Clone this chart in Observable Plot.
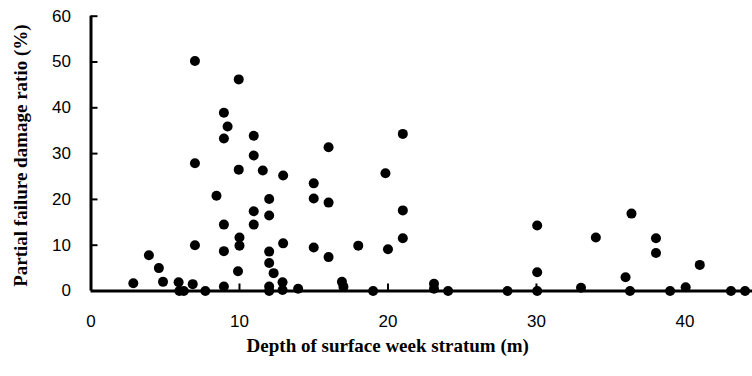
<!DOCTYPE html>
<html><head><meta charset="utf-8">
<script src="https://cdn.jsdelivr.net/npm/d3@7"></script>
<script src="https://cdn.jsdelivr.net/npm/@observablehq/plot@0.6"></script>
<style>
body{margin:0;background:#fff}
svg{display:block}
</style>
</head><body><div id="chart"></div>
<script>
const depth = [2.85,3.9,4.57,4.85,5.9,5.95,6.25,6.85,7.0,7.0,7.0,7.7,8.45,8.95,9.2,8.95,8.95,8.95,8.95,9.95,9.95,10.0,10.0,9.9,10.96,10.96,10.96,10.96,11.57,12.0,12.0,12.0,12.0,12.3,12.0,12.0,12.94,12.94,12.9,12.9,13.95,15.0,15.0,15.0,16.0,16.0,16.0,16.9,17.0,18.0,19.0,19.83,20.0,21.0,21.0,21.0,23.1,23.1,24.05,28.05,30.05,30.05,30.05,33.0,34.0,36.0,36.3,36.4,38.05,38.05,39.0,40.05,41.0,43.1,44.05];
const ratio = [1.7,7.8,5.0,2.0,1.9,0,0,1.5,50.2,27.9,10.0,0,20.8,38.9,35.9,33.3,14.5,8.7,1.0,46.2,26.5,11.7,9.9,4.3,33.9,29.6,17.4,14.5,26.3,20.1,16.5,8.6,6.1,3.9,1.0,0,25.2,10.4,1.9,0.2,0.5,23.5,20.2,9.5,31.4,19.3,7.4,2.0,0.9,9.9,0,25.7,9.1,34.3,17.6,11.5,1.6,0.5,0,0,14.3,4.1,0,0.7,11.7,3.0,0,16.9,11.5,8.3,0,0.8,5.7,0,0];
const xTicks = [0,10,20,30,40];
const yTicks = [0,10,20,30,40,50,60];
const xLabel = "Depth of surface week stratum (m)";
const yLabel = "Partial failure damage ratio (%)";
const points = depth.map((d,i)=>({depth:d, ratio:ratio[i]}));
const titleFont = "'Liberation Serif', 'Times New Roman', serif";
const chart = Plot.plot({
  width: 752, height: 376,
  marginLeft: 90.5, marginRight: 0, marginTop: 15.7, marginBottom: 85.5,
  style: {fontFamily: "'Liberation Sans', Arial, sans-serif", fontSize: "17px", color: "#000", background: "#fff", overflow: "visible"},
  x: {domain: [0, 44.55]},
  y: {domain: [0, 60]},
  marks: [
    Plot.axisX({ticks: xTicks, tickSize: 0, tickPadding: 24, fontSize: 17, label: null}),
    Plot.axisX({ticks: xTicks.slice(1), tickSize: -7, strokeWidth: 2, tickFormat: () => "", label: null}),
    Plot.axisY({ticks: yTicks, tickSize: 0, tickPadding: 20, fontSize: 17, label: null}),
    Plot.axisY({ticks: yTicks.slice(1), tickSize: -7, strokeWidth: 2, tickFormat: () => "", label: null}),
    Plot.text([xLabel], {text: d => d, frameAnchor: "bottom", lineAnchor: "bottom", dx: -34, dy: 61, fontFamily: titleFont, fontWeight: "bold", fontSize: 19}),
    Plot.text([yLabel], {text: d => d, frameAnchor: "left", textAnchor: "middle", lineAnchor: "top", rotate: -90, dx: -78, dy: 2, fontFamily: titleFont, fontWeight: "bold", fontSize: 19}),
    Plot.ruleX([0], {strokeWidth: 3}),
    Plot.ruleY([0], {strokeWidth: 3}),
    Plot.dot(points, {x: "depth", y: "ratio", r: 5, fill: "#000"})
  ]
});
document.getElementById("chart").appendChild(chart);
</script>
</body></html>
